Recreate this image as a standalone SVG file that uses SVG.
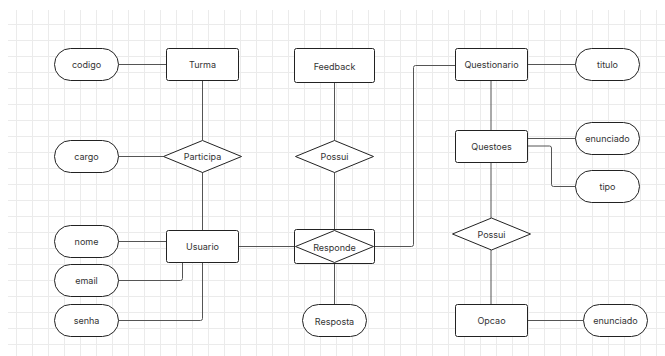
<svg xmlns="http://www.w3.org/2000/svg" width="665" height="356" viewBox="0 0 665 356">
<defs>
<pattern id="grid" patternUnits="userSpaceOnUse" x="0" y="8" width="16" height="16">
<path d="M0.5 0 V16 M0 0.5 H16" fill="none" stroke="#ebebeb" stroke-width="1"/>
</pattern>
</defs>
<style>
.ent{fill:#fff;stroke:#222;stroke-width:1}
.attr{fill:#fff;stroke:#222;stroke-width:1}
.rel{fill:#fff;stroke:#222;stroke-width:1}
.t{font-family:Inter,"Liberation Sans",sans-serif;font-size:9px;fill:#333;text-anchor:middle;dominant-baseline:central}
.c{fill:none;stroke:#555;stroke-width:1}
</style>
<rect x="0" y="0" width="665" height="356" fill="#fff"/>
<rect x="8" y="10" width="657" height="346" fill="url(#grid)"/>
<g id="connectors">
<path class="c" d="M118.5 64.5 H166.5"/>
<path class="c" d="M202.5 80.5 V140"/>
<path class="c" d="M118.5 156.5 H163.5"/>
<path class="c" d="M202.5 172 V230.5"/>
<path class="c" d="M118.5 241.5 H166.5"/>
<path class="c" d="M118.5 280.5 H180.5 Q182.5 280.5 182.5 278.5 V262.5"/>
<path class="c" d="M118.5 320.5 H200.5 Q202.5 320.5 202.5 318.5 V262.5"/>
<path class="c" d="M238.5 246.5 H295.5"/>
<path class="c" d="M334.5 82.5 V140.5"/>
<path class="c" d="M334.5 172.5 V229.5"/>
<path class="c" d="M334.5 263.5 V304.5"/>
<path class="c" d="M373.5 246.5 H411.5 Q413.5 246.5 413.5 244.5 V67.5 Q413.5 65.5 415.5 65.5 H455.5"/>
<path class="c" d="M527.5 64.5 H575.5"/>
<path class="c" d="M491 80.5 V130.5"/>
<path class="c" d="M527.5 138.5 H575.5"/>
<path class="c" d="M527.5 146 H549.5 Q551.5 146 551.5 148 V184.5 Q551.5 186.5 553.5 186.5 H575.5"/>
<path class="c" d="M491 162.5 V218"/>
<path class="c" d="M491 250 V304.5"/>
<path class="c" d="M527.5 320.5 H583.5"/>
</g>
<g id="codigo"><rect class="attr" x="54.5" y="48.5" width="64" height="32" rx="16"/><text class="t" x="86.5" y="64.5">codigo</text></g>
<g id="turma"><rect class="ent" x="166.5" y="48.5" width="72" height="32" rx="2"/><text class="t" x="202.5" y="64.5">Turma</text></g>
<g id="cargo"><rect class="attr" x="54.5" y="140.5" width="64" height="32" rx="16"/><text class="t" x="86.5" y="156.5">cargo</text></g>
<g id="participa"><polygon class="rel" points="163.5,156.5 202.5,140.5 241.5,156.5 202.5,172.5"/><text class="t" x="202.5" y="156.5">Participa</text></g>
<g id="feedback"><rect class="ent" x="294.5" y="48.5" width="80" height="34" rx="2"/><text class="t" x="334.5" y="66">Feedback</text></g>
<g id="possui1"><polygon class="rel" points="295.5,156.5 334.5,140.5 373.5,156.5 334.5,172.5"/><text class="t" x="334.5" y="156.5">Possui</text></g>
<g id="nome"><rect class="attr" x="54.5" y="225.5" width="64" height="32" rx="16"/><text class="t" x="86.5" y="241.5">nome</text></g>
<g id="email"><rect class="attr" x="54.5" y="264.5" width="64" height="32" rx="16"/><text class="t" x="86.5" y="280.5">email</text></g>
<g id="senha"><rect class="attr" x="54.5" y="304.5" width="64" height="32" rx="16"/><text class="t" x="86.5" y="320.5">senha</text></g>
<g id="usuario"><rect class="ent" x="166.5" y="230.5" width="72" height="32" rx="2"/><text class="t" x="202.5" y="246.5">Usuario</text></g>
<g id="responde"><rect class="ent" x="294.5" y="229.5" width="80" height="34" rx="2"/><polygon class="rel" points="295.5,246.5 334.5,230.5 373.5,246.5 334.5,262.5"/><text class="t" x="334.5" y="247">Responde</text></g>
<g id="resposta"><rect class="attr" x="302.5" y="304.5" width="64" height="32" rx="16"/><text class="t" x="334.5" y="321">Resposta</text></g>
<g id="questionario"><rect class="ent" x="455.5" y="48.5" width="72" height="32" rx="2"/><text class="t" x="491.5" y="64.5">Questionario</text></g>
<g id="titulo"><rect class="attr" x="575.5" y="48.5" width="64" height="32" rx="16"/><text class="t" x="607.5" y="64.5">titulo</text></g>
<g id="questoes"><rect class="ent" x="455.5" y="130.5" width="72" height="32" rx="2"/><text class="t" x="491.5" y="146.5">Questoes</text></g>
<g id="enunciado1"><rect class="attr" x="575.5" y="122.5" width="64" height="32" rx="16"/><text class="t" x="607.5" y="138.5">enunciado</text></g>
<g id="tipo"><rect class="attr" x="575.5" y="170.5" width="64" height="32" rx="16"/><text class="t" x="607.5" y="186.5">tipo</text></g>
<g id="possui2"><polygon class="rel" points="452.5,234 491.5,218 530.5,234 491.5,250"/><text class="t" x="491.5" y="234">Possui</text></g>
<g id="opcao"><rect class="ent" x="455.5" y="304.5" width="72" height="32" rx="2"/><text class="t" x="491.5" y="320.5">Opcao</text></g>
<g id="enunciado2"><rect class="attr" x="583.5" y="304.5" width="64" height="32" rx="16"/><text class="t" x="615.5" y="320.5">enunciado</text></g>
</svg>
